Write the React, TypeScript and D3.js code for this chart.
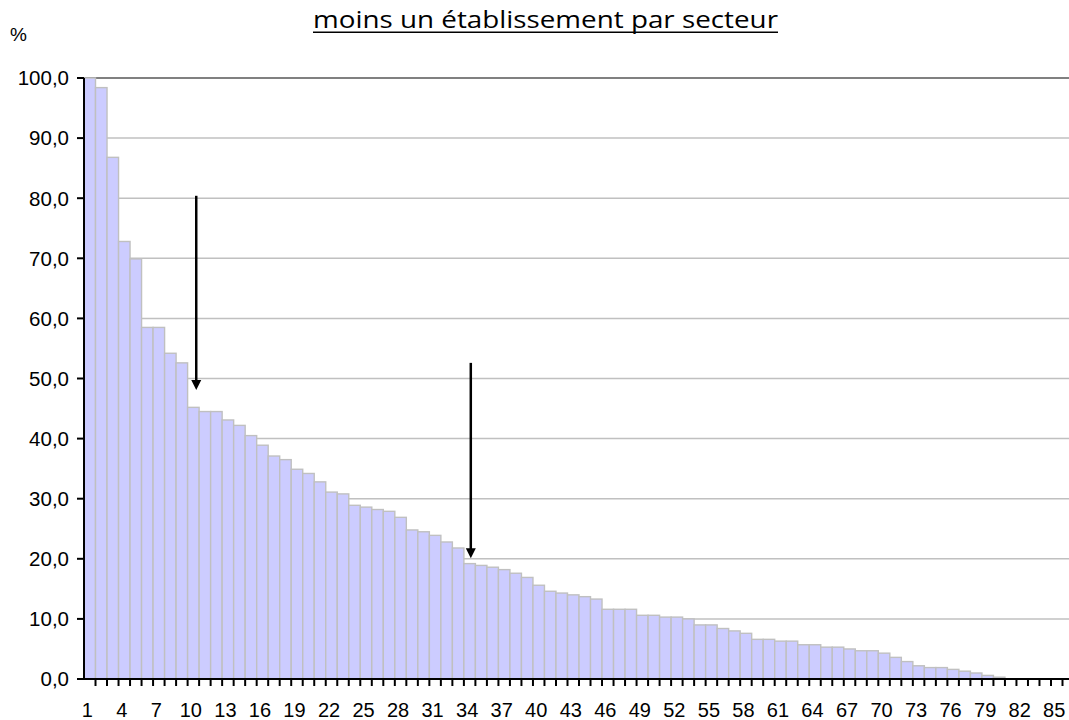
import * as d3 from 'd3';

// Données
const sectors = d3.range(1, 86);
const values = [
  100.0, 98.4, 86.8, 72.8, 69.9, 58.5, 58.5, 54.2, 52.6, 45.2,
  44.5, 44.5, 43.1, 42.2, 40.5, 38.9, 37.1, 36.5, 34.9, 34.2,
  32.8, 31.1, 30.8, 28.9, 28.6, 28.2, 27.9, 26.9, 24.8, 24.5,
  23.9, 22.8, 21.8, 19.2, 18.9, 18.6, 18.2, 17.6, 16.9, 15.6,
  14.6, 14.3, 14.0, 13.7, 13.3, 11.6, 11.6, 11.6, 10.6, 10.6,
  10.3, 10.3, 10.0, 9.0, 9.0, 8.4, 8.0, 7.6, 6.6, 6.6,
  6.3, 6.3, 5.7, 5.7, 5.3, 5.3, 5.0, 4.7, 4.7, 4.3,
  3.6, 2.9, 2.2, 1.9, 1.9, 1.6, 1.3, 1.0, 0.6, 0.3,
  0, 0, 0, 0, 0,
];
const yTicks = d3.range(0, 101, 10);
const xLabels = sectors.filter(s => (s - 1) % 3 === 0);
const arrows = [
  { pos: 10.25, from: 80.4, to: 48.1 },
  { pos: 34.1, from: 52.6, to: 20.1 },
];
const title = 'moins un établissement par secteur';

export default function App() {
  const width = 1069;
  const height = 720;
  const margin = { left: 84, right: 6.5, top: 78, bottom: 41 };

  const x = d3.scaleBand<number>()
    .domain(sectors)
    .range([margin.left, width - margin.right])
    .padding(0);
  const xPos = d3.scaleLinear()
    .domain([0.5, sectors.length + 0.5])
    .range([margin.left, width - margin.right]);
  const y = d3.scaleLinear()
    .domain([0, 100])
    .range([height - margin.bottom, margin.top]);

  const fmt = (v: number) => d3.format('.1f')(v).replace('.', ',');
  const y0 = y(0);
  const font = "'Liberation Sans', Arial, sans-serif";

  return (
    <svg width={width} height={height} style={{ display: 'block', position: 'absolute', left: 0, top: 0 }}>
      <rect width={width} height={height} fill="#fff" />

      {/* titre */}
      <text x={545.5} y={27.5} textAnchor="middle" fontFamily="'Open Sans', sans-serif" fontSize={23}
        textLength={465} lengthAdjust="spacingAndGlyphs" fill="#000">{title}</text>
      <line x1={313} x2={778} y1={32.3} y2={32.3} stroke="#000" strokeWidth={1.6} />
      <text x={10} y={41} fontFamily={font} fontSize={19} fill="#000">%</text>

      {/* grille */}
      {yTicks.filter(t => t > 0).map(t => (
        <line key={t} x1={margin.left} x2={width} y1={y(t)} y2={y(t)}
          stroke={t === 100 ? '#808080' : '#c0c0c0'} strokeWidth={t === 100 ? 2 : 1.5} />
      ))}

      {/* barres */}
      {sectors.map((s, i) => values[i] > 0 && (
        <rect key={s} x={x(s)} y={y(values[i])} width={x.bandwidth()} height={y0 - y(values[i])}
          fill="#ccccff" stroke="#c0c0c0" strokeWidth={1.4} />
      ))}

      {/* axes */}
      <line x1={margin.left} x2={margin.left} y1={y(100)} y2={y0} stroke="#000" strokeWidth={2} />
      <line x1={margin.left - 7} x2={width} y1={y0} y2={y0} stroke="#000" strokeWidth={2} />
      {yTicks.map(t => (
        <g key={t}>
          <line x1={margin.left - 7} x2={margin.left} y1={y(t)} y2={y(t)} stroke="#000" strokeWidth={2} />
          <text x={69} y={y(t)} dy="0.36em" textAnchor="end"
            fontFamily={font} fontSize={20.5} fill="#000">{fmt(t)}</text>
        </g>
      ))}
      {sectors.map(s => (
        <line key={s} x1={(x(s) as number) + x.bandwidth()} x2={(x(s) as number) + x.bandwidth()}
          y1={y0} y2={y0 + 7} stroke="#000" strokeWidth={2} />
      ))}
      {xLabels.map(s => (
        <text key={s} x={(x(s) as number) + x.bandwidth() / 2 - 2.5} y={717} textAnchor="middle"
          fontFamily={font} fontSize={20} fill="#000">{s}</text>
      ))}

      {/* flèches */}
      {arrows.map((a, i) => (
        <g key={i}>
          <line x1={xPos(a.pos)} x2={xPos(a.pos)} y1={y(a.from)} y2={y(a.to) - 9} stroke="#000" strokeWidth={2.5} />
          <path d={`M${xPos(a.pos) - 5},${y(a.to) - 10}L${xPos(a.pos) + 5},${y(a.to) - 10}L${xPos(a.pos)},${y(a.to)}Z`} fill="#000" />
        </g>
      ))}
    </svg>
  );
}
